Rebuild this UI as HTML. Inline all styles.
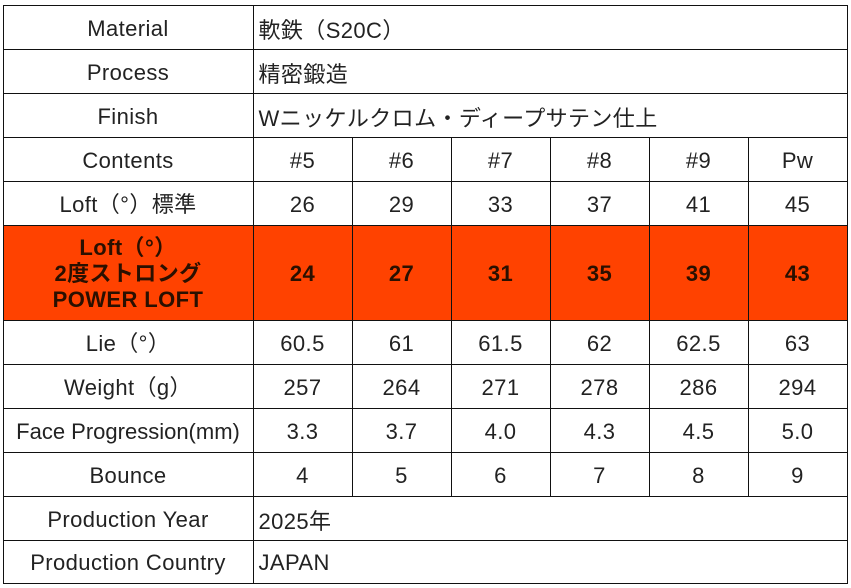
<!DOCTYPE html>
<html><head><meta charset="utf-8"><style>
body{margin:0;width:851px;height:588px;background:#fff;position:relative;overflow:hidden;font-family:"Liberation Sans","Noto Sans CJK JP",sans-serif;color:#222;}
.c{position:absolute;display:flex;align-items:center;justify-content:center;font-size:22px;letter-spacing:0.4px;box-sizing:border-box;border:1px solid #111;margin:-0.5px 0 0 -0.5px;padding-top:3px;}
.l{justify-content:flex-start;padding-left:5px;}
.r{background:#ff4200;font-weight:bold;color:#2a1000;}
</style></head><body>
<div id="t"></div>
<script>
var xs=[3,253,352,451,550,649,748,847];
var ys=[5,49,93,137,181,225,320,364,408,452,496,540,583];
var rows=[
["Material",["軟鉄（S20C）"]],
["Process",["精密鍛造"]],
["Finish",["Wニッケルクロム・ディープサテン仕上"]],
["Contents",["#5","#6","#7","#8","#9","Pw"]],
["Loft（°）標準",["26","29","33","37","41","45"]],
["Loft（°）<br>2度ストロング<br>POWER LOFT",["24","27","31","35","39","43"],1],
["Lie（°）",["60.5","61","61.5","62","62.5","63"]],
["Weight（g）",["257","264","271","278","286","294"]],
["Face Progression(mm)",["3.3","3.7","4.0","4.3","4.5","5.0"]],
["Bounce",["4","5","6","7","8","9"]],
["Production Year",["2025年"]],
["Production Country",["JAPAN"]]];
var h="";
rows.forEach(function(r,i){
 var y=ys[i],hh=ys[i+1]-y+1,cls=r[2]?" r":"";
 h+='<div class="c'+cls+'" style="left:'+xs[0]+'px;top:'+y+'px;width:'+(xs[1]-xs[0]+1)+'px;height:'+hh+'px;text-align:center;line-height:26px;white-space:nowrap;letter-spacing:'+(i==8?'0':'0.4px')+'">'+r[0]+'</div>';
 if(r[1].length==1){
  h+='<div class="c l" style="left:'+xs[1]+'px;top:'+y+'px;width:'+(xs[7]-xs[1]+1)+'px;height:'+hh+'px">'+r[1][0]+'</div>';
 }else r[1].forEach(function(v,j){
  h+='<div class="c'+cls+'" style="left:'+xs[j+1]+'px;top:'+y+'px;width:'+(xs[j+2]-xs[j+1]+1)+'px;height:'+hh+'px">'+v+'</div>';
 });
});
document.getElementById("t").innerHTML=h;
</script>
</body></html>
